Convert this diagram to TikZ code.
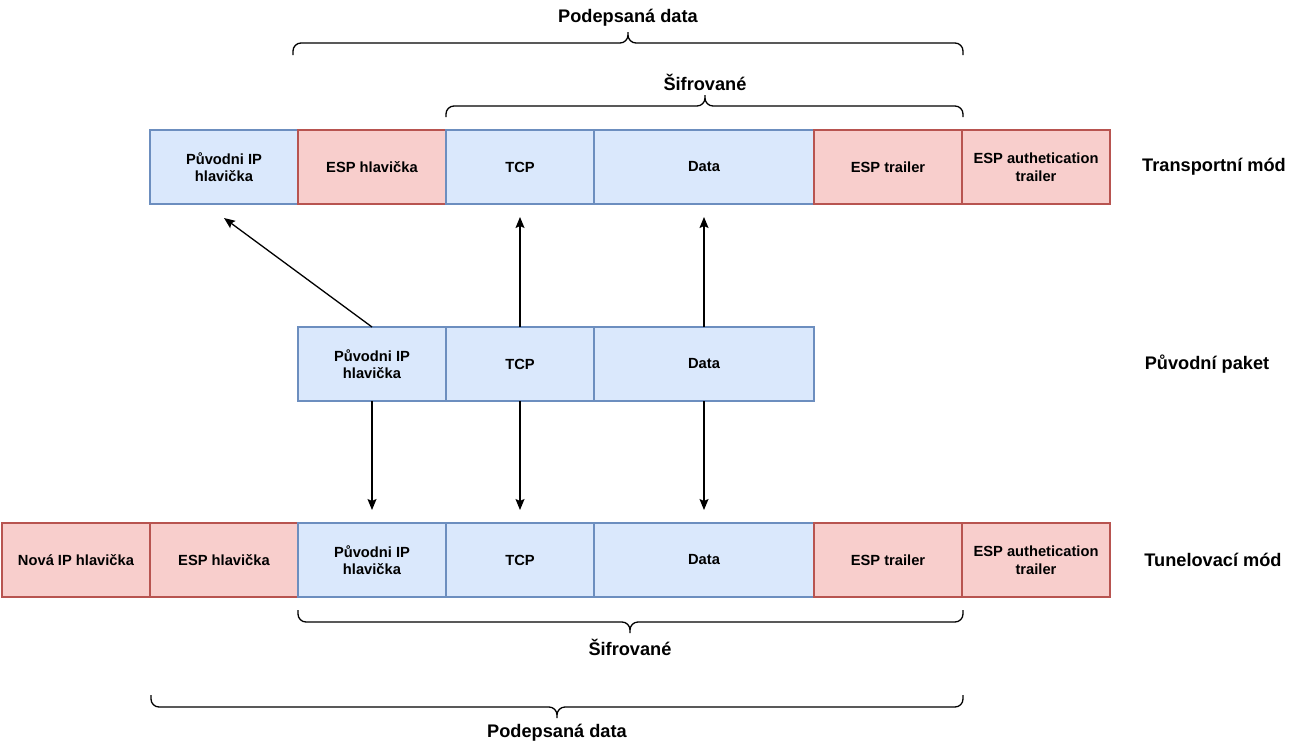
\documentclass[tikz,border=0pt]{standalone}
\usepackage{fontspec}
\setmainfont{Liberation Sans}
\usetikzlibrary{arrows.meta, positioning}
\definecolor{modraVypln}{HTML}{DAE8FC}
\definecolor{modryOkraj}{HTML}{6C8EBF}
\definecolor{cervenaVypln}{HTML}{F8CECC}
\definecolor{cervenyOkraj}{HTML}{B85450}

\begin{document}
\begin{tikzpicture}[x = 1pt, y = -1pt,
        blok/.style = {draw, line width = 1.3pt, minimum width = 148pt, minimum height = 74pt,
            inner sep = 0pt, outer sep = 0pt, align = center, font = \fontsize{14.7}{17.6}\selectfont\bfseries},
        modry/.style = {blok, fill = modraVypln, draw = modryOkraj},
        cerveny/.style = {blok, fill = cervenaVypln, draw = cervenyOkraj},
        popis/.style = {font = \fontsize{18.2}{22}\selectfont\bfseries},
        sipka/.style = {line width = 1.3pt, arrows = {-Stealth[length = 11pt, width = 9pt, inset = 2pt]}},
        zavorka/.style = {line width = 1.3pt, rounded corners = 8pt}]
        \useasboundingbox (0,0) rectangle (1296,747);
        % Transportni mod
        \node[modry] (TIp) at (224,167) {Původni IP\\hlavička};
        \node[cerveny, right = 0pt of TIp] (TEsp) {ESP hlavička};
        \node[modry, right = 0pt of TEsp] (TTcp) {TCP};
        \node[modry, right = 0pt of TTcp, minimum width = 220pt] (TData) {Data};
        \node[cerveny, right = 0pt of TData] (TTrailer) {ESP trailer};
        \node[cerveny, right = 0pt of TTrailer] (TAuth) {ESP authetication\\trailer};
        \node[popis] (TPopis) at (1214,167) {Transportní mód};
        % Puvodni paket
        \node[modry] (PIp) at (372,364) {Původni IP\\hlavička};
        \node[modry, right = 0pt of PIp] (PTcp) {TCP};
        \node[modry, right = 0pt of PTcp, minimum width = 220pt] (PData) {Data};
        \node[popis] (PPopis) at (1207,364) {Původní paket};
        % Tunelovaci mod
        \node[cerveny] (BNova) at (76,560) {Nová IP hlavička};
        \node[cerveny, right = 0pt of BNova] (BEsp) {ESP hlavička};
        \node[modry, right = 0pt of BEsp] (BIp) {Původni IP\\hlavička};
        \node[modry, right = 0pt of BIp] (BTcp) {TCP};
        \node[modry, right = 0pt of BTcp, minimum width = 220pt] (BData) {Data};
        \node[cerveny, right = 0pt of BData] (BTrailer) {ESP trailer};
        \node[cerveny, right = 0pt of BTrailer] (BAuth) {ESP authetication\\trailer};
        \node[popis] (BPopis) at (1213,560) {Tunelovací mód};
        % Sipky
        \draw[sipka] (PIp.north) -- ([yshift = -14pt]TIp.south);
        \draw[sipka, shorten > = 13pt] (PTcp.north) -- (TTcp.south);
        \draw[sipka, shorten > = 13pt] (PData.north) -- (TData.south);
        \draw[sipka, shorten > = 13pt] (PIp.south) -- (BIp.north);
        \draw[sipka, shorten > = 13pt] (PTcp.south) -- (BTcp.north);
        \draw[sipka, shorten > = 13pt] (PData.south) -- (BData.north);
        % Zavorky nahore
        \draw[zavorka] (293,55) -- (293,43) -- (628,43) -- (628,32) (628,32) -- (628,43) -- (963,43) -- (963,55);
        \node[popis] (PodpisHore) at (628,18) {Podepsaná data};
        \draw[zavorka] (446,117) -- (446,106) -- (705,106) -- (705,95) (705,95) -- (705,106) -- (963,106) -- (963,117);
        \node[popis] (SifraHore) at (705,82) {Šifrované};
        % Zavorky dole
        \draw[zavorka] (298,610) -- (298,622) -- (630,622) -- (630,633) (630,633) -- (630,622) -- (963,622) -- (963,610);
        \node[popis] (SifraDole) at (630,647) {Šifrované};
        \draw[zavorka] (151,695) -- (151,707) -- (557,707) -- (557,718) (557,718) -- (557,707) -- (963,707) -- (963,695);
        \node[popis] (PodpisDole) at (557,733) {Podepsaná data};
\end{tikzpicture}
\end{document}
